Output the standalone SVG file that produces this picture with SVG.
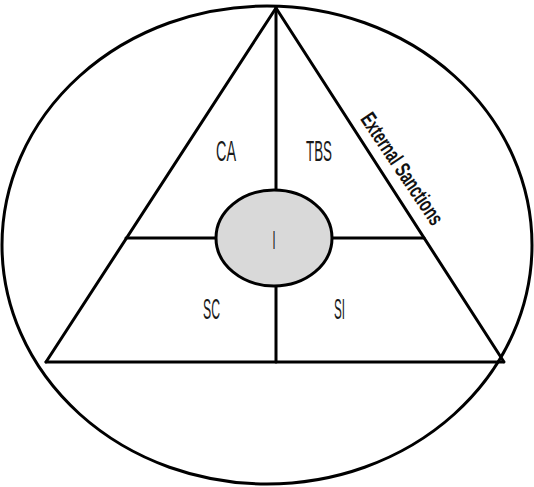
<svg xmlns="http://www.w3.org/2000/svg" width="534" height="487" viewBox="0 0 534 487">
<style>
.ln{stroke:#000;stroke-width:3;fill:none;stroke-linecap:round}
.t{font-family:"Liberation Sans",Arial,sans-serif;fill:#1a1a1a;font-size:30px}
</style>
<rect width="534" height="487" fill="#fff"/>
<g id="connectors">
<ellipse class="ln" cx="267" cy="245" rx="265" ry="239"/>
<line class="ln" x1="276" y1="8" x2="46" y2="362"/>
<line class="ln" x1="276" y1="8" x2="504" y2="362"/>
<line class="ln" x1="46" y1="362" x2="503" y2="362"/>
<line class="ln" x1="276" y1="8" x2="276" y2="362"/>
<line class="ln" x1="126" y1="238" x2="424" y2="238"/>
</g>
<g id="node-I">
<ellipse cx="274" cy="238" rx="58" ry="48" fill="#d9d9d9" stroke="#000" stroke-width="3"/>
<text class="t" x="272.5" y="248.5" textLength="3" lengthAdjust="spacingAndGlyphs" style="font-size:26px">I</text>
</g>
<g id="node-CA"><text class="t" x="216" y="160.5" textLength="20" lengthAdjust="spacingAndGlyphs">CA</text></g>
<g id="node-TBS"><text class="t" x="306" y="160.5" textLength="26" lengthAdjust="spacingAndGlyphs">TBS</text></g>
<g id="node-SC"><text class="t" x="203" y="318.5" textLength="17" lengthAdjust="spacingAndGlyphs">SC</text></g>
<g id="node-SI"><text class="t" x="334" y="318.5" textLength="11" lengthAdjust="spacingAndGlyphs">SI</text></g>
<g id="label-external">
<text class="t" x="396" y="173" text-anchor="middle" textLength="130" lengthAdjust="spacingAndGlyphs" transform="rotate(56 396 173)" style="font-size:22px;font-weight:bold;fill:#111">External Sanctions</text>
</g>
</svg>
